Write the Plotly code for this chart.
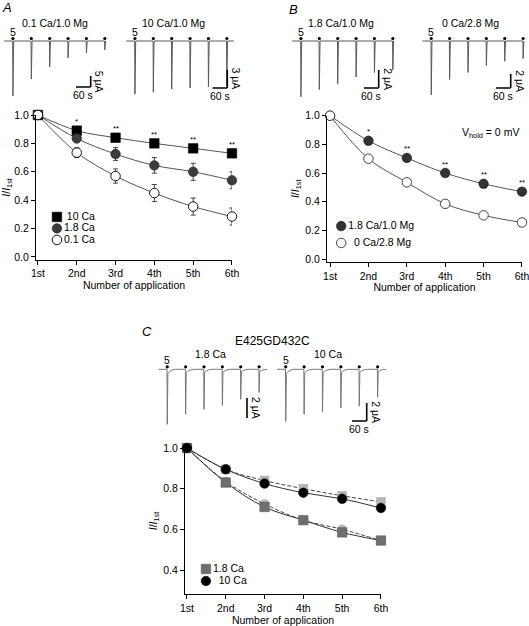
import plotly.graph_objects as go

W, H = 529, 626
FONT = "Liberation Sans, Arial, Helvetica, sans-serif"
FS = 10.5

# ------------------------------------------------------------------ data
applications = [1, 2, 3, 4, 5, 6]
app_labels = ["1st", "2nd", "3rd", "4th", "5th", "6th"]
y_ticks_ab = [0.0, 0.2, 0.4, 0.6, 0.8, 1.0]
y_ticks_c = [0.4, 0.6, 0.8, 1.0]
sig_marks = ["", "*", "**", "**", "**", "**"]

# Panel A (1.0 mM Mg, different Ca)
a_10ca = [1.0, 0.89, 0.84, 0.80, 0.765, 0.73]
a_10ca_err = [0, 0.015, 0.012, 0.012, 0.015, 0.015]
a_18ca = [1.0, 0.835, 0.725, 0.645, 0.60, 0.54]
a_18ca_err = [0, 0.03, 0.045, 0.055, 0.06, 0.06]
a_01ca = [1.0, 0.735, 0.57, 0.45, 0.355, 0.285]
a_01ca_err = [0, 0.035, 0.05, 0.06, 0.06, 0.06]
a_legend = ["10 Ca", "1.8 Ca", "0.1 Ca"]

# Panel B
b_18ca = [1.0, 0.825, 0.705, 0.60, 0.525, 0.47]
b_18ca_err = [0, 0.015, 0.02, 0.02, 0.02, 0.02]
b_0ca = [1.0, 0.70, 0.535, 0.385, 0.305, 0.255]
b_0ca_err = [0, 0.01, 0.01, 0.015, 0.02, 0.015]
b_legend = ["1.8 Ca/1.0 Mg", "0 Ca/2.8 Mg"]

# Panel C (E425GD432C, dashed = wild type from A)
c_18ca = [1.0, 0.83, 0.71, 0.645, 0.585, 0.545]
c_18ca_err = [0, 0.01, 0.015, 0.015, 0.012, 0.01]
c_10ca = [1.0, 0.895, 0.825, 0.78, 0.75, 0.705]
c_10ca_err = [0, 0.01, 0.012, 0.012, 0.015, 0.015]
c_wt18 = [1.0, 0.835, 0.725, 0.645, 0.60, 0.545]
c_wt10 = [1.0, 0.895, 0.84, 0.80, 0.765, 0.735]
c_legend = ["1.8 Ca", "10 Ca"]

# Current traces: application times (s) and peak currents (uA)
app_times = [0, 75, 150, 225, 300, 375]
a1_peaks = [-25.0, -17.3, -11.8, -7.7, -5.5, -4.1]   # 0.1 Ca/1.0 Mg
a2_peaks = [-8.7, -8.4, -7.9, -7.7, -7.5, -7.4]      # 10 Ca/1.0 Mg
b1_peaks = [-6.2, -5.4, -4.8, -4.0, -3.5, -3.2]      # 1.8 Ca/1.0 Mg
b2_peaks = [-7.7, -5.5, -4.5, -3.5, -2.9, -2.5]      # 0 Ca/2.8 Mg
c1_peaks = [-5.5, -4.5, -4.0, -3.6, -3.0, -2.3]      # E425GD432C 1.8 Ca
c2_peaks = [-5.8, -5.0, -4.7, -4.3, -4.1, -3.1]      # E425GD432C 10 Ca
app_duration_label = "5"
time_bar_s = 60

# ------------------------------------------------------------------ helpers
def fx(px):
    return px / W


def fy(py):
    return 1 - py / H


fig = go.Figure()
layout = dict(
    width=W, height=H, margin=dict(l=0, r=0, t=0, b=0, autoexpand=False),
    paper_bgcolor="white", plot_bgcolor="rgba(0,0,0,0)",
    showlegend=False, template="none",
    font=dict(family=FONT, size=FS, color="black"),
)
annotations = []


def plot_axes(n, xdom, ydom, xr, yr, yticks):
    sfx = "" if n == 1 else str(n)
    common = dict(showgrid=False, zeroline=False, showline=True, linecolor="black",
                  linewidth=1, ticks="outside", ticklen=4, tickwidth=1, tickcolor="black",
                  tickfont=dict(family=FONT, size=FS, color="black"), fixedrange=True,
                  automargin=False, ticklabeloverflow="allow")
    layout["xaxis" + sfx] = dict(common, domain=[fx(xdom[0]), fx(xdom[1])], range=list(xr),
                                 tickvals=applications, ticktext=app_labels,
                                 anchor="y" + sfx,
                                 title=dict(text="Number of application", standoff=2,
                                            font=dict(family=FONT, size=FS)))
    layout["yaxis" + sfx] = dict(common, domain=[fy(ydom[1]), fy(ydom[0])], range=list(yr),
                                 tickvals=yticks, ticktext=[f"{v:.1f}" for v in yticks],
                                 anchor="x" + sfx,
                                 title=dict(text="<i>I</i>/<i>I</i><sub>1st</sub>", standoff=3,
                                            font=dict(family=FONT, size=FS)))
    return "x" + sfx, "y" + sfx


def add_line(xa, ya, y, color, dash="solid"):
    fig.add_trace(go.Scatter(x=applications, y=y, mode="lines",
                             line=dict(color=color, width=1, shape="spline", dash=dash),
                             xaxis=xa, yaxis=ya, hoverinfo="skip"))


def add_points(xa, ya, y, err, marker, ecolor="black"):
    fig.add_trace(go.Scatter(x=applications, y=y, mode="markers", marker=marker,
                             error_y=dict(type="data", array=err, visible=err is not None,
                                          color=ecolor, thickness=1, width=2.5),
                             cliponaxis=False, xaxis=xa, yaxis=ya, hoverinfo="skip"))


def add_stars(xa, ya, y, shift=9):
    for xv, yv, s in zip(applications, y, sig_marks):
        if s:
            annotations.append(dict(x=xv, y=yv, xref=xa, yref=ya, text=s, showarrow=False,
                                    yanchor="middle", yshift=shift,
                                    font=dict(family=FONT, size=8, color="black")))


def add_legend(xa, ya, x, y0, dy, labels, markers, pads):
    for i, (lab, mk_, pad) in enumerate(zip(labels, markers, pads)):
        fig.add_trace(go.Scatter(x=[x], y=[y0 - i * dy], mode="markers+text",
                                 text=[pad + lab], textposition="middle right",
                                 textfont=dict(family=FONT, size=FS, color="black"),
                                 marker=mk_, cliponaxis=False, xaxis=xa, yaxis=ya,
                                 hoverinfo="skip"))


def mk(symbol, fill, line="black", lw=0.6, size=9.5):
    return dict(symbol=symbol, color=fill, size=size, line=dict(color=line, width=lw))


# ------------------------------------------------------------------ panel A
xa, ya = plot_axes(1, (36, 232), (115, 259.8), (0.95, 6.001), (-0.02, 1.0), y_ticks_ab)
add_line(xa, ya, a_10ca, "#555555")
add_line(xa, ya, a_18ca, "#555555")
add_line(xa, ya, a_01ca, "#555555")
add_points(xa, ya, a_10ca, a_10ca_err, mk("square", "black"))
add_points(xa, ya, a_18ca, a_18ca_err, mk("circle", "#3c3c3c", "#222222"), "#444444")
add_points(xa, ya, a_01ca, a_01ca_err, mk("circle", "white", "black", 0.9), "#444444")
add_stars(xa, ya, a_10ca)
add_legend(xa, ya, 1.49, 0.282, 0.081, a_legend,
           [mk("square", "black"), mk("circle", "#3c3c3c", "#222222"),
            mk("circle", "white", "black", 0.9)], [" ", "", ""])

# ------------------------------------------------------------------ panel B
xa, ya = plot_axes(2, (327, 522), (115.7, 261.9), (0.92, 6.001), (-0.02, 1.0), y_ticks_ab)
add_line(xa, ya, b_18ca, "#555555")
add_line(xa, ya, b_0ca, "#555555")
add_points(xa, ya, b_18ca, b_18ca_err, mk("circle", "#333333", "#111111"), "#444444")
add_points(xa, ya, b_0ca, b_0ca_err, mk("circle", "white", "#333333", 0.9), "#444444")
add_stars(xa, ya, b_18ca)
add_legend(xa, ya, 1.29, 0.23, 0.118, b_legend,
           [mk("circle", "#333333", "#111111"), mk("circle", "white", "#333333", 0.9)],
           ["", "  "])
annotations.append(dict(x=fx(521), y=fy(133), xref="paper", yref="paper", xanchor="right",
                        yanchor="middle", showarrow=False,
                        text="V<sub>hold</sub> = 0 mV", font=dict(family=FONT, size=FS)))

# ------------------------------------------------------------------ panel C
xa, ya = plot_axes(3, (185, 381), (448, 594), (0.95, 6.001), (0.282, 1.0), y_ticks_c)
add_line(xa, ya, c_wt18, "#444444", "4px,2px")
add_line(xa, ya, c_wt10, "#444444", "4px,2px")
add_line(xa, ya, c_18ca, "#333333")
add_line(xa, ya, c_10ca, "#333333")
add_points(xa, ya, c_wt18, None, mk("circle", "#b5b5b5", "#b5b5b5", 0))
add_points(xa, ya, c_wt10, None, mk("square", "#b5b5b5", "#b5b5b5", 0))
add_points(xa, ya, c_18ca, c_18ca_err, mk("square", "#6e6e6e", "#555555", 0.5), "#333333")
add_points(xa, ya, c_10ca, c_10ca_err, mk("circle", "black"))
add_legend(xa, ya, 1.49, 0.405, 0.059, c_legend,
           [mk("square", "#6e6e6e", "#555555", 0.5), mk("circle", "black")], ["", "  "])

# ------------------------------------------------------------------ current traces
PPS = 0.245  # px per second
TRACE_PANELS = [
    dict(peaks=a1_peaks, title="0.1 Ca/1.0 Mg", x1=12.7, yb=41, ppu=2.2, post=0, bar=5,
         bar_x=90.7, bar_y=87, hbar=True, kind="sharp", tcx=55, tcy=23, col="#5a5a5a"),
    dict(peaks=a2_peaks, title="10 Ca/1.0 Mg", x1=134.7, yb=41, ppu=6.1, post=30, bar=3,
         bar_x=227.3, bar_y=88, hbar=True, kind="sharp", tcx=173, tcy=23, col="#5a5a5a"),
    dict(peaks=b1_peaks, title="1.8 Ca/1.0 Mg", x1=300.7, yb=41, ppu=9.0, post=5, bar=2,
         bar_x=378.7, bar_y=88, hbar=True, kind="sharp", tcx=341, tcy=23, col="#5a5a5a"),
    dict(peaks=b2_peaks, title="0 Ca/2.8 Mg", x1=431, yb=41, ppu=7.0, post=0, bar=2,
         bar_x=510.7, bar_y=88, hbar=True, kind="sharp", tcx=470, tcy=23, col="#5a5a5a"),
    dict(peaks=c1_peaks, title="1.8 Ca", x1=167, yb=369.3, ppu=10.0, post=12, bar=2,
         bar_x=247, bar_y=418, hbar=False, kind="sag", tcx=210, tcy=354, col="#777777"),
    dict(peaks=c2_peaks, title="10 Ca", x1=285.5, yb=369.3, ppu=9.0, post=10, bar=2,
         bar_x=366.7, bar_y=421, hbar=True, kind="sag", tcx=328, tcy=354, col="#777777"),
]


def trace_xy(times, peaks, pre, post, kind):
    xs, ys = [times[0] - pre], [0.0]
    for t, p in zip(times, peaks):
        if kind == "sharp":
            xs += [t, t + 1.0, t + 4.0]
            ys += [0.0, p, 0.0]
        else:
            xs += [t, t + 1.0, t + 3.5, t + 10, t + 20, t + 35]
            ys += [0.0, p, 0.08 * p, 0.045 * p, 0.015 * p, 0.0]
    end = times[-1] + post
    if end > xs[-1]:
        xs.append(end)
        ys.append(0.0)
    return xs, ys


for i, tp in enumerate(TRACE_PANELS):
    n = 4 + i
    xa, ya = "x%d" % n, "y%d" % n
    left = max(tp["x1"] - 12, 0.5)
    right = min(tp["x1"] + 120, W - 0.5)
    top = tp["yb"] - 20
    bottom = tp["yb"] + 75
    layout["xaxis%d" % n] = dict(domain=[fx(left), fx(right)], visible=False, fixedrange=True,
                                 range=[(left - tp["x1"]) / PPS, (right - tp["x1"]) / PPS],
                                 anchor=ya)
    layout["yaxis%d" % n] = dict(domain=[fy(bottom), fy(top)], visible=False, fixedrange=True,
                                 range=[-(bottom - tp["yb"]) / tp["ppu"], (tp["yb"] - top) / tp["ppu"]],
                                 anchor=xa)
    xs, ys = trace_xy(app_times, tp["peaks"], 35, tp["post"], tp["kind"])
    fig.add_trace(go.Scatter(x=xs, y=ys, mode="lines", line=dict(color=tp["col"], width=1),
                             xaxis=xa, yaxis=ya, hoverinfo="skip", cliponaxis=False))
    fig.add_trace(go.Scatter(x=[t + 1 for t in app_times], y=[2.5 / tp["ppu"]] * len(app_times),
                             mode="markers", marker=dict(color="black", size=3.2),
                             xaxis=xa, yaxis=ya, hoverinfo="skip", cliponaxis=False))
    annotations.append(dict(x=app_times[0] + 1, y=0, xref=xa, yref=ya, text=app_duration_label,
                            showarrow=False, yanchor="bottom", yshift=1,
                            font=dict(family=FONT, size=FS)))
    # scale bars
    tb = (tp["bar_x"] - tp["x1"]) / PPS
    cb = -(tp["bar_y"] - tp["yb"]) / tp["ppu"]
    fig.add_trace(go.Scatter(x=[tb, tb], y=[cb, cb + tp["bar"]], mode="lines",
                             line=dict(color="black", width=1.6), xaxis=xa, yaxis=ya,
                             hoverinfo="skip", cliponaxis=False))
    annotations.append(dict(x=tb, y=cb + tp["bar"] / 2, xref=xa, yref=ya,
                            text="%g μA" % tp["bar"], textangle=90, showarrow=False,
                            xanchor="left", xshift=1, font=dict(family=FONT, size=FS)))
    if tp["hbar"]:
        fig.add_trace(go.Scatter(x=[tb - time_bar_s, tb], y=[cb, cb], mode="lines",
                                 line=dict(color="black", width=1.6), xaxis=xa, yaxis=ya,
                                 hoverinfo="skip", cliponaxis=False))
        annotations.append(dict(x=tb - time_bar_s / 2, y=cb, xref=xa, yref=ya,
                                text="%d s" % time_bar_s, showarrow=False, yanchor="top",
                                yshift=0, font=dict(family=FONT, size=FS)))
    annotations.append(dict(x=fx(tp["tcx"]), y=fy(tp["tcy"]), xref="paper", yref="paper",
                            text=tp["title"], showarrow=False, xanchor="center",
                            yanchor="middle", font=dict(family=FONT, size=FS)))

# ------------------------------------------------------------------ labels
for letter, px, py in [("A", 7, 8), ("B", 293, 9), ("C", 147, 331)]:
    annotations.append(dict(x=fx(px), y=fy(py), xref="paper", yref="paper",
                            text="<i>%s</i>" % letter, showarrow=False, xanchor="center",
                            yanchor="middle", font=dict(family=FONT, size=13)))
annotations.append(dict(x=fx(272), y=fy(341), xref="paper", yref="paper", text="E425GD432C",
                        showarrow=False, xanchor="center", yanchor="middle",
                        font=dict(family=FONT, size=12)))

layout["annotations"] = annotations
fig.update_layout(**layout)
fig.write_html("out.html", config={"displayModeBar": False, "staticPlot": True},
               post_script="document.body.style.margin='0';document.body.style.padding='0';")
